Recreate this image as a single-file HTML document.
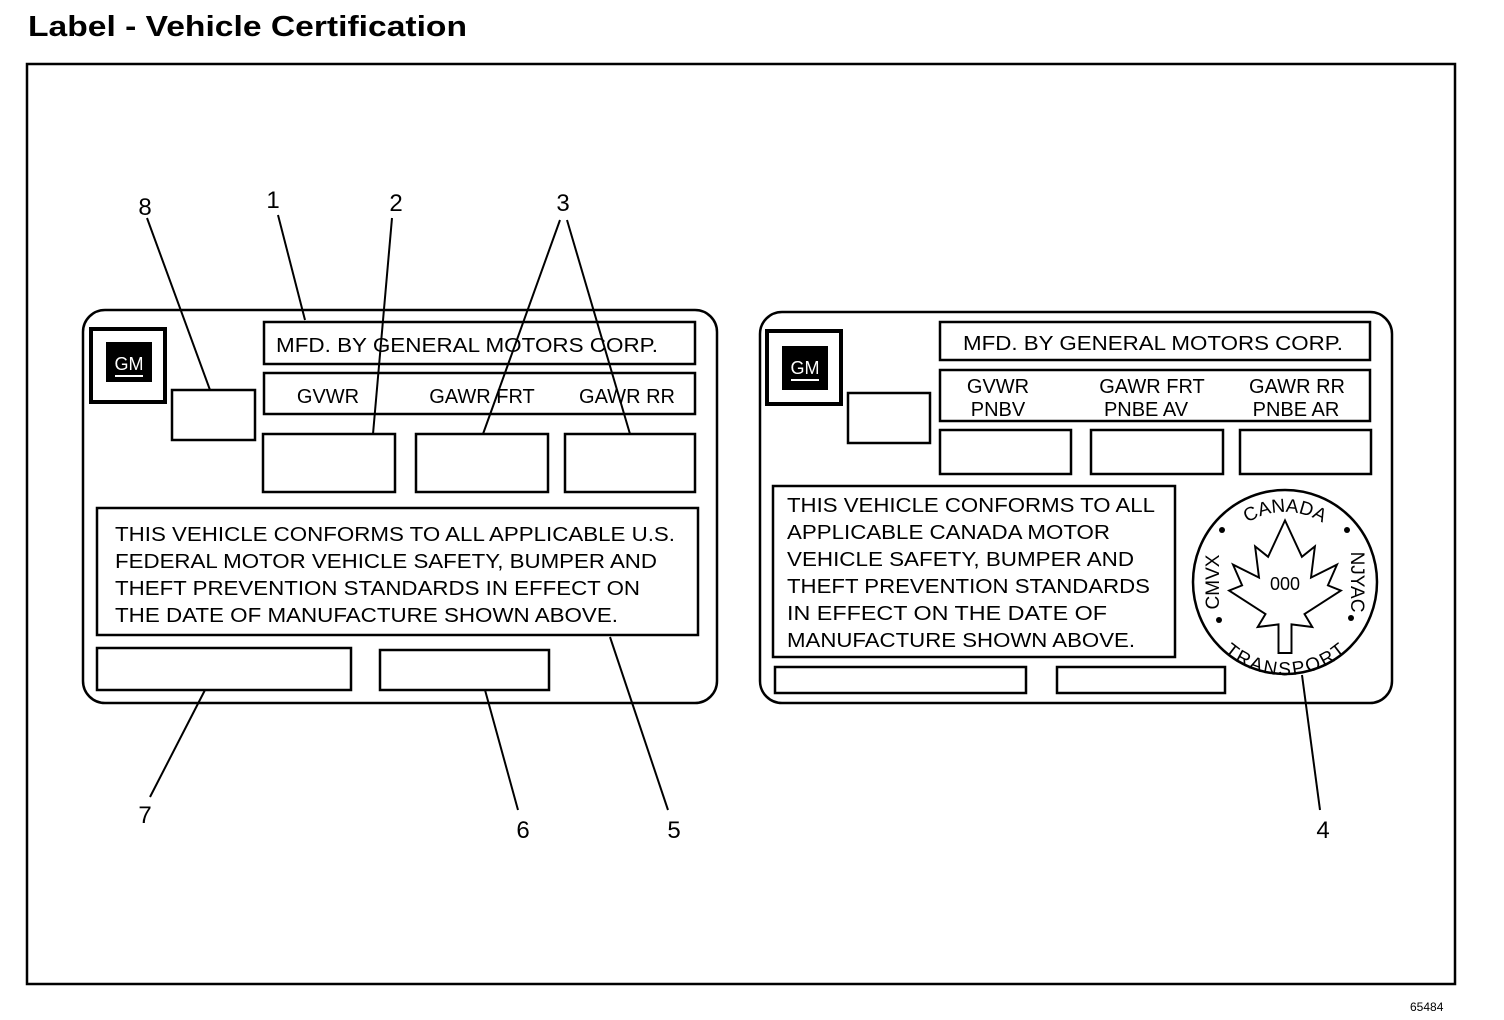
<!DOCTYPE html>
<html><head><meta charset="utf-8"><style>
html,body{margin:0;padding:0;background:#fff;}
svg{display:block;}
text{font-family:"Liberation Sans",Arial,sans-serif;fill:#000;}
</style></head><body>
<svg width="1504" height="1020" viewBox="0 0 1504 1020" xmlns="http://www.w3.org/2000/svg">
<defs>
<path id="arcTop" d="M1215,582 A70,70 0 0 1 1355,582"/>
<path id="arcBot" d="M1207,600 A80,80 0 0 0 1363,600"/>
</defs>
<text x="28" y="36" font-size="29" font-weight="bold" textLength="439" lengthAdjust="spacingAndGlyphs">Label - Vehicle Certification</text>
<rect x="27" y="64" width="1428" height="920" fill="none" stroke="#000" stroke-width="2.5"/>
<text x="1410" y="1011" font-size="12">65484</text>

<g fill="none" stroke="#000" stroke-width="2.5">
<rect x="83" y="310" width="634" height="393" rx="22"/>
<rect x="91" y="329" width="74" height="73" stroke-width="4"/>
<rect x="172" y="390" width="83" height="50"/>
<rect x="264" y="322" width="431" height="42"/>
<rect x="264" y="373" width="431" height="41"/>
<rect x="263" y="434" width="132" height="58"/>
<rect x="416" y="434" width="132" height="58"/>
<rect x="565" y="434" width="130" height="58"/>
<rect x="97" y="508" width="601" height="127"/>
<rect x="97" y="648" width="254" height="42"/>
<rect x="380" y="650" width="169" height="40"/>
<rect x="760" y="312" width="632" height="391" rx="22"/>
<rect x="767" y="331" width="74" height="73" stroke-width="4"/>
<rect x="848" y="393" width="82" height="50"/>
<rect x="940" y="322" width="430" height="38"/>
<rect x="940" y="370" width="430" height="51"/>
<rect x="940" y="430" width="131" height="44"/>
<rect x="1091" y="430" width="132" height="44"/>
<rect x="1240" y="430" width="131" height="44"/>
<rect x="773" y="486" width="402" height="171"/>
<rect x="775" y="667" width="251" height="26"/>
<rect x="1057" y="667" width="168" height="26"/>
<circle cx="1285" cy="582" r="92"/>
<polygon stroke-width="1.5" transform="translate(1285,588) scale(1.3) translate(-1285,-580)" points="1285,528 1298,556 1308,548 1305,572 1325,562 1318,578 1328,582 1300,600 1306,610 1290,608 1290,630 1280,630 1280,608 1264,610 1270,600 1242,582 1252,578 1245,562 1265,572 1262,548 1272,556"/>
<line x1="147" y1="218" x2="210" y2="390" stroke-width="2"/>
<line x1="278" y1="215" x2="305" y2="320" stroke-width="2"/>
<line x1="392" y1="218" x2="373" y2="434" stroke-width="2"/>
<line x1="560" y1="220" x2="483" y2="434" stroke-width="2"/>
<line x1="567" y1="220" x2="630" y2="434" stroke-width="2"/>
<line x1="150" y1="797" x2="205" y2="690" stroke-width="2"/>
<line x1="518" y1="810" x2="485" y2="690" stroke-width="2"/>
<line x1="668" y1="810" x2="610" y2="637" stroke-width="2"/>
<line x1="1320" y1="810" x2="1302" y2="675" stroke-width="2"/>
</g>
<rect x="106" y="342" width="46" height="40" fill="#000"/>
<text x="129" y="370" font-size="18" text-anchor="middle" style="fill:#fff">GM</text>
<rect x="782" y="346" width="46" height="44" fill="#000"/>
<text x="805" y="374" font-size="18" text-anchor="middle" style="fill:#fff">GM</text>
<rect x="791" y="379" width="28" height="2" fill="#fff"/>
<rect x="115" y="375" width="28" height="2" fill="#fff"/>

<g font-size="20">
<text x="276" y="352" textLength="382" lengthAdjust="spacingAndGlyphs">MFD. BY GENERAL MOTORS CORP.</text>
<text x="328" y="403" text-anchor="middle">GVWR</text>
<text x="482" y="403" text-anchor="middle">GAWR FRT</text>
<text x="627" y="403" text-anchor="middle">GAWR RR</text>
<text x="115" y="541" textLength="560" lengthAdjust="spacingAndGlyphs">THIS VEHICLE CONFORMS TO ALL APPLICABLE U.S.</text>
<text x="115" y="568" textLength="542" lengthAdjust="spacingAndGlyphs">FEDERAL MOTOR VEHICLE SAFETY, BUMPER AND</text>
<text x="115" y="595" textLength="525" lengthAdjust="spacingAndGlyphs">THEFT PREVENTION STANDARDS IN EFFECT ON</text>
<text x="115" y="622" textLength="503" lengthAdjust="spacingAndGlyphs">THE DATE OF MANUFACTURE SHOWN ABOVE.</text>

<text x="963" y="350" textLength="380" lengthAdjust="spacingAndGlyphs">MFD. BY GENERAL MOTORS CORP.</text>
<text x="998" y="393" text-anchor="middle">GVWR</text>
<text x="998" y="416" text-anchor="middle">PNBV</text>
<text x="1152" y="393" text-anchor="middle">GAWR FRT</text>
<text x="1146" y="416" text-anchor="middle">PNBE AV</text>
<text x="1297" y="393" text-anchor="middle">GAWR RR</text>
<text x="1296" y="416" text-anchor="middle">PNBE AR</text>
<text x="787" y="512" textLength="368" lengthAdjust="spacingAndGlyphs">THIS VEHICLE CONFORMS TO ALL</text>
<text x="787" y="539" textLength="323" lengthAdjust="spacingAndGlyphs">APPLICABLE CANADA MOTOR</text>
<text x="787" y="566" textLength="347" lengthAdjust="spacingAndGlyphs">VEHICLE SAFETY, BUMPER AND</text>
<text x="787" y="593" textLength="363" lengthAdjust="spacingAndGlyphs">THEFT PREVENTION STANDARDS</text>
<text x="787" y="620" textLength="320" lengthAdjust="spacingAndGlyphs">IN EFFECT ON THE DATE OF</text>
<text x="787" y="647" textLength="348" lengthAdjust="spacingAndGlyphs">MANUFACTURE SHOWN ABOVE.</text>
<text x="1285" y="590" text-anchor="middle" font-size="18">000</text>
</g>
<text font-size="19"><textPath href="#arcTop" startOffset="50%" text-anchor="middle">CANADA</textPath></text>
<text font-size="19" dominant-baseline="hanging"><textPath href="#arcBot" startOffset="50%" text-anchor="middle">TRANSPORT</textPath></text>
<text x="0" y="0" font-size="19" text-anchor="middle" transform="translate(1219,582) rotate(-90)">CMVX</text>
<text x="0" y="0" font-size="19" text-anchor="middle" transform="translate(1351,582) rotate(90)">NJYAC</text>
<circle cx="1222" cy="530" r="3"/><circle cx="1347" cy="530" r="3"/>
<circle cx="1219" cy="620" r="3"/><circle cx="1351" cy="618" r="3"/>

<g font-size="24">
<text x="145" y="215" text-anchor="middle">8</text>
<text x="273" y="208" text-anchor="middle">1</text>
<text x="396" y="211" text-anchor="middle">2</text>
<text x="563" y="211" text-anchor="middle">3</text>
<text x="145" y="823" text-anchor="middle">7</text>
<text x="523" y="838" text-anchor="middle">6</text>
<text x="674" y="838" text-anchor="middle">5</text>
<text x="1323" y="838" text-anchor="middle">4</text>
</g>
</svg>
</body></html>
